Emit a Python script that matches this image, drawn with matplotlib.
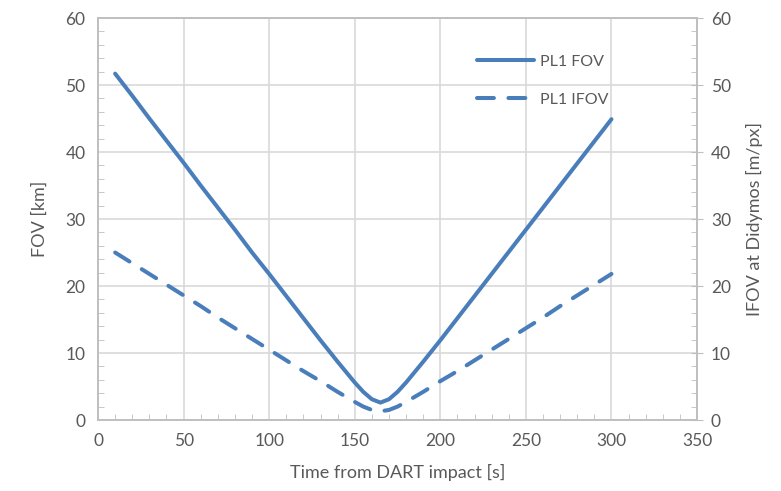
# FOV / IFOV of PL1 versus time from DART impact
import matplotlib.pyplot as plt
from matplotlib.ticker import MultipleLocator

plt.rcParams['font.family'] = ['Lato', 'DejaVu Sans']

# data
time_s = [10, 20, 30, 40, 50, 60, 70, 80, 90, 100, 110, 120, 130, 140, 150, 155, 160,
          165, 170, 175, 180, 190, 200, 210, 220, 230, 240, 250, 260, 270, 280, 290, 300]
fov_km = [51.7, 48.4, 45.0, 41.7, 38.4, 35.0, 31.7, 28.4, 25.0, 21.8, 18.5, 15.2, 11.9, 8.7,
          5.6, 4.2, 3.1, 2.6, 3.1, 4.2, 5.6, 8.7, 11.9, 15.2, 18.5, 21.8, 25.1, 28.4, 31.7,
          35.0, 38.3, 41.6, 44.9]
ifov_m = [25.0, 23.4, 21.8, 20.2, 18.6, 17.0, 15.3, 13.7, 12.1, 10.5, 8.9, 7.3, 5.8, 4.2,
          2.7, 2.0, 1.5, 1.3, 1.5, 2.0, 2.7, 4.2, 5.8, 7.3, 8.9, 10.5, 12.1, 13.7, 15.3,
          17.0, 18.6, 20.2, 21.8]

blue = '#4a7ebb'
grey = '#595959'
gridc = '#d9d9d9'
spinec = '#bfbfbf'

fig = plt.figure(figsize=(7.81, 4.91), dpi=100)
ax = fig.add_axes([0.1255, 0.1446, 0.767, 0.8187])
ax2 = ax.twinx()

l1, = ax.plot(time_s, fov_km, color=blue, lw=2.9, solid_capstyle='round',
              solid_joinstyle='round', label='PL1 FOV')
l2, = ax2.plot(time_s, ifov_m, color=blue, lw=2.9, dashes=(4.2, 3.6),
               dash_capstyle='round', label='PL1 IFOV')

ax.set_xlim(0, 350)
ax.set_ylim(0, 60)
ax2.set_ylim(0, 60)
ax.xaxis.set_major_locator(MultipleLocator(50))
ax.xaxis.set_minor_locator(MultipleLocator(10))
for a in (ax, ax2):
    a.yaxis.set_major_locator(MultipleLocator(10))
    a.yaxis.set_minor_locator(MultipleLocator(2))
    for s in a.spines.values():
        s.set_color(spinec)
        s.set_linewidth(1.2)

ax.grid(True, which='major', color=gridc, lw=1.2)
ax.set_axisbelow(True)
ax.tick_params(which='major', length=0, labelsize=12.5, labelcolor=grey, pad=9)
ax.tick_params(which='minor', direction='in', length=4, color=spinec)
ax2.tick_params(which='major', direction='inout', length=8, color=spinec,
                labelsize=12.5, labelcolor=grey, pad=6)
ax2.tick_params(which='minor', direction='in', length=4, color=spinec)

ax.set_xlabel('Time from DART impact [s]', fontsize=13, color=grey, labelpad=11)
ax.set_ylabel('FOV [km]', fontsize=13, color=grey, labelpad=13)
ax2.set_ylabel('IFOV at Didymos [m/px]', fontsize=13, color=grey, labelpad=11)

leg = ax2.legend(handles=[l1, l2], loc='upper left', bbox_to_anchor=(0.608, 0.945),
                 frameon=False, fontsize=11.5, handlelength=3.6, handletextpad=0.4,
                 labelspacing=1.5)
for t in leg.get_texts():
    t.set_color(grey)

fig.savefig('out.png', dpi=100)
